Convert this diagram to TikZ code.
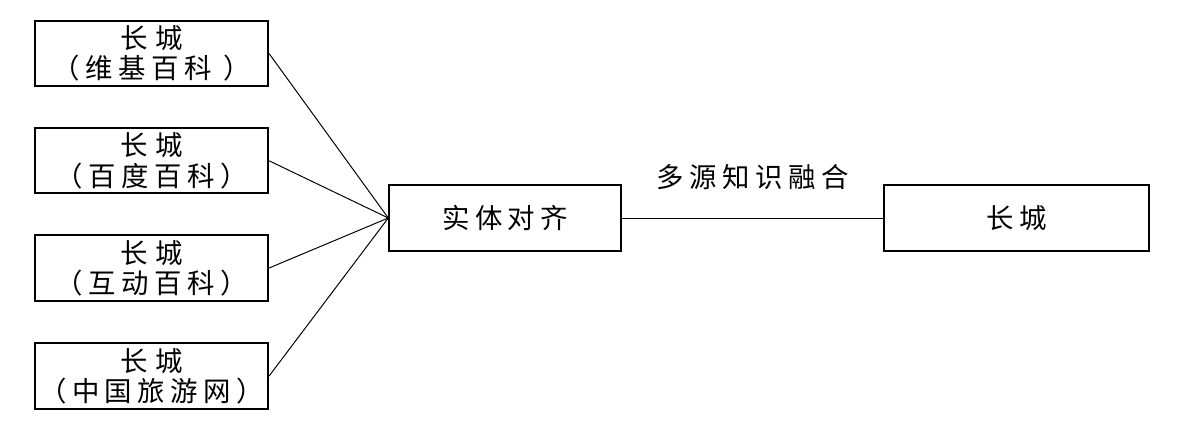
\documentclass[tikz,border=0pt]{standalone}
\usepackage{fontspec}
\newfontfamily\cjk{Noto Sans CJK SC}[LetterSpace=20]
\usetikzlibrary{positioning}

\begin{document}
\begin{tikzpicture}[
      font=\cjk\fontsize{19.5}{21.5}\selectfont,
      source/.style={draw, line width=1.3pt, align=center, minimum width=5.83cm,
        minimum height=1.63cm, inner sep=0pt},
      block/.style={draw, line width=1.3pt, align=center, minimum height=1.65cm,
        inner sep=0pt},
      link/.style={line width=0.7pt},
      lab/.style={inner sep=2pt}
    ]
    \useasboundingbox (0,0) rectangle (29.5,10.8);
    \node[source] at (3.79, 9.46) (wiki) {长\hspace{0.3em}城\\（维基百科 ）};
    \node[source] at (3.79, 6.78) (baidu) {长\hspace{0.3em}城\\（百度百科）};
    \node[source] at (3.79, 4.10) (hudong) {长\hspace{0.3em}城\\（互动百科）};
    \node[source] at (3.79, 1.40) (travel) {长\hspace{0.3em}城\\（中国旅游网）};
    \node[block, minimum width=5.8cm] at (12.63, 5.35) (entity) {实体对齐};
    \node[block, minimum width=6.63cm] at (25.41, 5.35) (fused) {长\hspace{0.2em}城};

    \foreach \src in {wiki, baidu, hudong, travel}
      \draw[link] (\src.east) -- (entity.west);
    \draw[link] (entity.east) --
      node[lab, above=0.62cm]{多源知识融合} (fused.west);
  \end{tikzpicture}
\end{document}
